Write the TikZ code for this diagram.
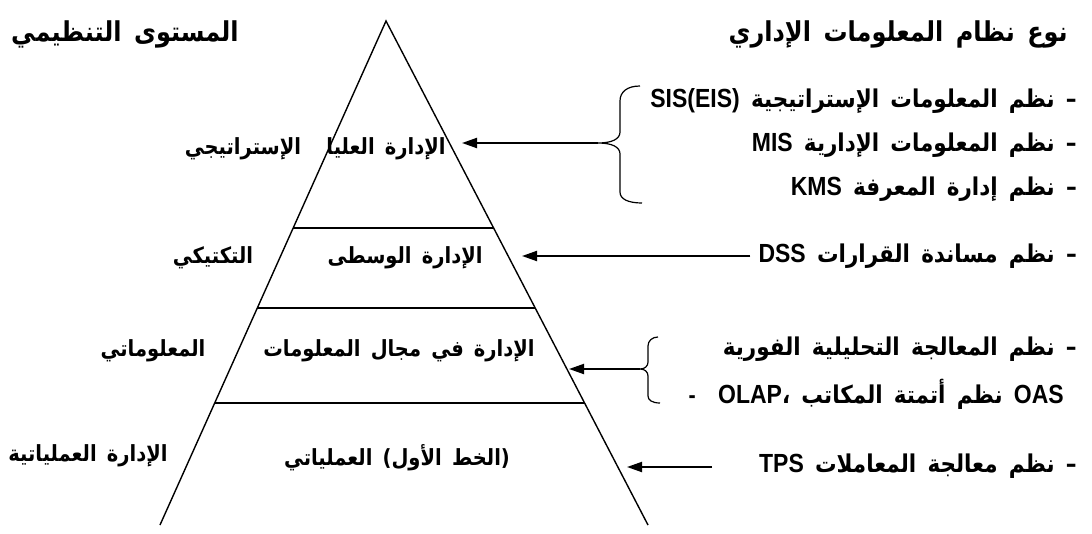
\documentclass[tikz,border=0pt]{standalone}
\usepackage{fontspec}
\usepackage{graphicx}
\newfontfamily\arabicfont[Script=Arabic, WordSpace=1.5]{DejaVu Sans}
\newfontfamily\latinfont{Liberation Sans}
\TeXXeTstate=1
\usetikzlibrary{arrows.meta,calc}

% slightly tall lettering
\newcommand{\tall}[1]{\scalebox{1}[1.14]{#1}}
% Arabic run (right to left) and embedded Latin run (left to right)
\newcommand{\arb}[1]{\tall{\arabicfont\bfseries\beginR #1\endR}}
\newcommand{\ltn}[1]{\beginL{\latinfont\bfseries\fontsize{23}{26}\selectfont #1}\endL{}}

\tikzset{
  side/.style={line width=1.4pt},
  tier/.style={line width=1.5pt},
  pointer/.style={line width=2pt, -{Triangle[length=15pt,width=10pt]}},
  bracket/.style={line width=1.2pt},
  lbl/.style={inner sep=0pt, font=\fontsize{19.5}{23}\selectfont},
  head/.style={inner sep=0pt, font=\fontsize{24}{28}\selectfont},
  entry/.style={inner sep=0pt, anchor=east, font=\fontsize{21.5}{25}\selectfont},
}

\begin{document}
\begin{tikzpicture}[x=1pt, y=-1pt]
  \useasboundingbox (0,0) rectangle (1092,533);

  % pyramid outline (open at the base)
  \coordinate (apex) at (386,21);
  \coordinate (bl) at (160,525);
  \coordinate (br) at (648,525);
  \draw[side] (bl) -- (apex) -- (br);

  % tier separators at y = 228, 308, 403
  \foreach \t/\n in {0.4107/a, 0.5694/b, 0.7579/c} {
    \coordinate (l\n) at ($(apex)!\t!(bl)$);
    \coordinate (r\n) at ($(apex)!\t!(br)$);
    \draw[tier] (l\n) -- (r\n);
  }

  % headings
  \node[head] (hlevel) at (125,34) {\arb{المستوى التنظيمي}};
  \node[head, anchor=east] (htype) at (1068,34) {\arb{نوع نظام المعلومات الإداري}};

  % tiers inside the pyramid
  \node[lbl] (top) at (386,149) {\arb{الإدارة العليا}};
  \node[lbl] (mid) at (405,258) {\arb{الإدارة الوسطى}};
  \node[lbl] (info) at (399,351) {\arb{الإدارة في مجال المعلومات}};
  \node[lbl] (ops) at (397,458) {\arb{(الخط الأول) العملياتي}};

  % organisational level to the left
  \node[lbl] (strat) at (243,149) {\arb{الإستراتيجي}};
  \node[lbl] (tact) at (213,258) {\arb{التكتيكي}};
  \node[lbl] (infl) at (153,351) {\arb{المعلوماتي}};
  \node[lbl] (opl) at (88,456) {\arb{الإدارة العملياتية}};

  % information system types
  \node[entry] (sis) at (1077,101) {\arb{– نظم المعلومات الإستراتيجية \ltn{SIS(EIS)}}};
  \node[entry] (mis) at (1077,145) {\arb{– نظم المعلومات الإدارية \ltn{MIS}}};
  \node[entry] (kms) at (1077,189) {\arb{– نظم إدارة المعرفة \ltn{KMS}}};
  \node[entry] (dss) at (1077,256) {\arb{– نظم مساندة القرارات \ltn{DSS}}};
  \node[entry] (olap) at (1077,349) {\arb{– نظم المعالجة التحليلية الفورية}};
  \node[entry] (oas) at (1064,394) {\tall{\arabicfont\bfseries
      {\latinfont -}\ \ \ltn{OLAP}، \beginR نظم أتمتة المكاتب\endR{} \ltn{OAS}}};
  \node[entry] (tps) at (1077,466) {\arb{– نظم معالجة المعاملات \ltn{TPS}}};

  % upper bracket and its pointer
  \coordinate (b1) at (598,143);
  \draw[bracket] (640,86) .. controls (627,86) and (620,92) .. (620,101)
    -- (620,132) .. controls (620,139) and (612,143) .. (b1)
    .. controls (612,143) and (620,147) .. (620,154)
    -- (620,192) .. controls (620,199) and (628,203) .. (642,203);
  \coordinate (t1) at (462,143);
  \draw[pointer] (b1) -- (t1);

  % decision support pointer
  \coordinate (t2) at (522,256);
  \draw[pointer] ([xshift=-8pt]dss.west) -- (t2);

  % lower bracket and its pointer
  \coordinate (b2) at (640,369);
  \draw[bracket] (658,337) .. controls (652,337) and (648,341) .. (648,346)
    -- (648,362) .. controls (648,366) and (645,369) .. (b2)
    .. controls (645,369) and (648,372) .. (648,376)
    -- (648,396) .. controls (648,400) and (652,403) .. (660,403);
  \coordinate (t3) at (569,369);
  \draw[pointer] (b2) -- (t3);

  % transaction processing pointer
  \coordinate (t4) at (627,467);
  \coordinate (s4) at (712,467);
  \draw[pointer] (s4) -- (t4);
\end{tikzpicture}
\end{document}
